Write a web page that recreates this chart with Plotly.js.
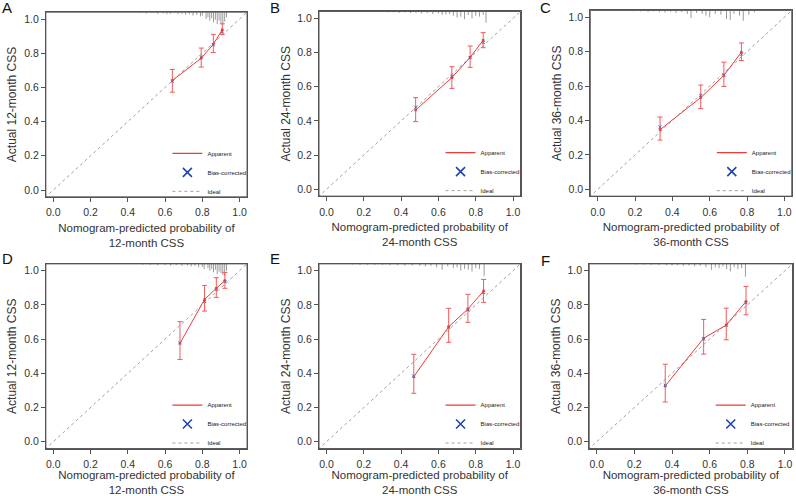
<!DOCTYPE html>
<html>
<head>
<meta charset="utf-8">
<script src="https://cdn.plot.ly/plotly-3.0.1.min.js"></script>
<style>
  html, body { margin: 0; padding: 0; background: #fff; }
  #calib { width: 796px; height: 496px; }
</style>
</head>
<body>
<div id="calib"></div>
<script>
// calibration plots of the nomogram, CSS at 12/24/36 months (top row A-C, bottom row D-F)
const panelLetters = ['A', 'B', 'C', 'D', 'E', 'F'];
const panelMonths = ['12', '24', '36', '12', '24', '36'];
const tickVals = [0, 0.2, 0.4, 0.6, 0.8, 1.0];
const tickText = ['0.0', '0.2', '0.4', '0.6', '0.8', '1.0'];

// nomogram-predicted probability for each group
const predA = [0.639, 0.794, 0.859, 0.907];
const predB = [0.478, 0.672, 0.770, 0.840];
const predC = [0.334, 0.552, 0.676, 0.770];
const predD = [0.680, 0.812, 0.875, 0.921];
const predE = [0.468, 0.655, 0.758, 0.842];
const predF = [0.364, 0.568, 0.688, 0.793];

// observed (apparent) CSS
const obsA = [0.640, 0.771, 0.852, 0.937];
const obsB = [0.464, 0.653, 0.772, 0.871];
const obsC = [0.347, 0.533, 0.662, 0.797];
const obsD = [0.575, 0.832, 0.897, 0.942];
const obsE = [0.380, 0.672, 0.776, 0.881];
const obsF = [0.326, 0.605, 0.682, 0.820];

// 95% CI lower / upper
const lowA = [0.572, 0.719, 0.804, 0.910];
const lowB = [0.396, 0.590, 0.713, 0.828];
const lowC = [0.286, 0.469, 0.598, 0.749];
const lowD = [0.481, 0.764, 0.844, 0.897];
const lowE = [0.283, 0.581, 0.698, 0.815];
const lowF = [0.232, 0.512, 0.596, 0.742];
const highA = [0.705, 0.830, 0.910, 0.972];
const highB = [0.536, 0.717, 0.838, 0.916];
const highC = [0.420, 0.606, 0.739, 0.851];
const highD = [0.702, 0.914, 0.959, 0.990];
const highE = [0.511, 0.780, 0.862, 0.949];
const highF = [0.453, 0.715, 0.781, 0.908];

// bias-corrected CSS
const biasA = [0.636, 0.778, 0.848, 0.925];
const biasB = [0.480, 0.662, 0.770, 0.858];
const biasC = [0.363, 0.545, 0.665, 0.785];
const biasD = [0.578, 0.820, 0.890, 0.935];
const biasE = [0.385, 0.668, 0.770, 0.872];
const biasF = [0.330, 0.600, 0.680, 0.812];

// spike histogram of predictions along the top (position, spike length)
const rugXA = [0.47,0.50,0.53,0.56,0.59,0.61,0.63,0.65,0.67,0.69,0.71,0.73,0.75,0.77,0.79,0.80,0.82,0.83,0.84,0.85,0.86,0.87,0.88,0.89,0.90,0.91,0.92,0.93];
const rugHA = [0.006,0.008,0.005,0.01,0.008,0.012,0.01,0.006,0.012,0.01,0.015,0.012,0.02,0.015,0.025,0.02,0.04,0.03,0.05,0.035,0.06,0.045,0.07,0.05,0.065,0.075,0.055,0.03];
const rugXB = [0.30,0.33,0.36,0.39,0.42,0.45,0.48,0.51,0.54,0.57,0.60,0.62,0.64,0.66,0.68,0.70,0.72,0.74,0.76,0.78,0.80,0.82,0.84,0.855];
const rugHB = [0.004,0.006,0.005,0.008,0.006,0.01,0.008,0.012,0.01,0.015,0.012,0.02,0.018,0.015,0.025,0.035,0.03,0.045,0.02,0.04,0.025,0.03,0.02,0.065];
const rugXC = [0.15,0.19,0.23,0.27,0.30,0.33,0.36,0.39,0.42,0.45,0.48,0.50,0.53,0.56,0.58,0.60,0.63,0.66,0.69,0.71,0.73,0.76,0.78,0.81,0.84];
const rugHC = [0.004,0.005,0.006,0.008,0.006,0.01,0.012,0.008,0.015,0.01,0.02,0.045,0.015,0.02,0.03,0.04,0.02,0.025,0.05,0.055,0.02,0.03,0.06,0.025,0.01];
const rugXD = [0.48,0.52,0.56,0.60,0.63,0.66,0.69,0.72,0.74,0.76,0.78,0.80,0.81,0.83,0.84,0.85,0.86,0.87,0.88,0.89,0.90,0.91,0.92,0.93];
const rugHD = [0.005,0.006,0.008,0.006,0.01,0.008,0.012,0.01,0.015,0.012,0.02,0.018,0.03,0.025,0.04,0.03,0.05,0.035,0.06,0.045,0.055,0.065,0.07,0.04];
const rugXE = [0.14,0.18,0.22,0.26,0.30,0.34,0.38,0.42,0.46,0.50,0.53,0.56,0.59,0.62,0.65,0.68,0.70,0.72,0.74,0.76,0.78,0.80,0.82,0.845];
const rugHE = [0.004,0.005,0.005,0.006,0.006,0.008,0.008,0.01,0.01,0.012,0.015,0.012,0.02,0.035,0.015,0.025,0.02,0.04,0.03,0.035,0.045,0.025,0.03,0.07];
const rugXF = [0.21,0.25,0.29,0.33,0.37,0.40,0.43,0.46,0.49,0.52,0.55,0.58,0.61,0.63,0.65,0.67,0.69,0.71,0.73,0.75,0.77,0.79];
const rugHF = [0.004,0.005,0.006,0.006,0.008,0.01,0.008,0.012,0.01,0.015,0.012,0.02,0.035,0.02,0.025,0.015,0.03,0.045,0.02,0.03,0.025,0.075];

const preds = [predA, predB, predC, predD, predE, predF];
const obs = [obsA, obsB, obsC, obsD, obsE, obsF];
const lows = [lowA, lowB, lowC, lowD, lowE, lowF];
const highs = [highA, highB, highC, highD, highE, highF];
const biases = [biasA, biasB, biasC, biasD, biasE, biasF];
const rugXs = [rugXA, rugXB, rugXC, rugXD, rugXE, rugXF];
const rugHs = [rugHA, rugHB, rugHC, rugHD, rugHE, rugHF];

// where 0 sits and how many px one unit is, per panel
const boxes = [
  {x0: 53.5, ux: 187, y0: 190, uy: 171},
  {x0: 327.7, ux: 187.3, y0: 189.3, uy: 171},
  {x0: 600, ux: 187.3, y0: 189.3, uy: 172},
  {x0: 53.5, ux: 187, y0: 441.7, uy: 171},
  {x0: 327.7, ux: 187.3, y0: 441.7, uy: 171},
  {x0: 599, ux: 189.5, y0: 441.7, uy: 171}
];
const letterPos = [[7, 8], [276, 8], [548, 8], [8, 258], [276, 258], [548, 260]];

const W = 796, H = 496;
const lo = -0.04, hi = 1.04;
const red = '#ee3a3a';
const frame = '#555';
const font = 'Liberation Sans, Arial, sans-serif';

var data = [];
var layout = {
  width: W,
  height: H,
  margin: {l: 0, r: 0, t: 0, b: 0},
  paper_bgcolor: 'white',
  plot_bgcolor: 'white',
  font: {family: font, color: '#333', size: 11},
  showlegend: true,
  annotations: [],
  shapes: []
};

for (var p = 0; p < 6; p++) {
  var b = boxes[p];
  var sfx = p === 0 ? '' : String(p + 1);
  var xa = 'x' + sfx, ya = 'y' + sfx;
  var lg = 'legend' + sfx;

  var leftPx = b.x0 + lo * b.ux;
  var rightPx = Math.min(b.x0 + hi * b.ux, W - 0.5);
  var topPx = b.y0 - hi * b.uy;
  var botPx = b.y0 - lo * b.uy;

  var axBase = {
    showgrid: false,
    zeroline: false,
    showline: true,
    mirror: true,
    linecolor: frame,
    linewidth: 1,
    ticks: 'outside',
    ticklen: 4,
    tickwidth: 1,
    tickcolor: frame,
    tickvals: tickVals,
    ticktext: tickText,
    tickfont: {size: 10.5, color: '#333'},
    fixedrange: true
  };

  layout['xaxis' + sfx] = Object.assign({}, axBase, {
    range: [lo, hi],
    domain: [leftPx / W, rightPx / W],
    anchor: ya,
    ticklabelstandoff: 2,
    title: {
      text: 'Nomogram-predicted probability of<br>' + panelMonths[p] + '-month CSS',
      font: {size: 11.5, color: '#333'},
      standoff: 6
    }
  });
  layout['yaxis' + sfx] = Object.assign({}, axBase, {
    range: [lo, hi],
    domain: [1 - botPx / H, 1 - topPx / H],
    anchor: xa,
    title: {
      text: 'Actual ' + panelMonths[p] + '-month CSS',
      font: {size: 12, color: '#333'},
      standoff: 4
    }
  });

  // plot frame
  layout.shapes.push({
    type: 'rect', xref: xa + ' domain', yref: ya + ' domain',
    x0: 0, x1: 1, y0: 0, y1: 1,
    line: {color: frame, width: 1}, layer: 'above'
  });

  layout[lg] = {
    x: (leftPx + 122) / W,
    xanchor: 'left',
    y: 1 - (botPx + 9) / H,
    yanchor: 'bottom',
    bgcolor: 'rgba(0,0,0,0)',
    borderwidth: 0,
    font: {size: 6, color: '#222'},
    traceorder: 'normal'
  };

  layout.annotations.push({
    text: panelLetters[p],
    xref: 'paper', yref: 'paper',
    x: letterPos[p][0] / W, y: 1 - letterPos[p][1] / H,
    xanchor: 'center', yanchor: 'middle',
    showarrow: false,
    font: {size: 15, color: '#111'}
  });

  // ideal diagonal
  data.push({
    type: 'scatter', mode: 'lines',
    x: [lo - 0.1, hi + 0.1], y: [lo - 0.1, hi + 0.1],
    xaxis: xa, yaxis: ya, legend: lg,
    name: 'Ideal', legendrank: 3,
    line: {color: '#888', width: 0.8, dash: 'dot'},
    hoverinfo: 'skip'
  });

  // spike histogram hanging from the top edge
  var rx = [], ry = [];
  for (var i = 0; i < rugXs[p].length; i++) {
    rx.push(rugXs[p][i], rugXs[p][i], null);
    ry.push(hi, hi - rugHs[p][i], null);
  }
  data.push({
    type: 'scatter', mode: 'lines',
    x: rx, y: ry,
    xaxis: xa, yaxis: ya, legend: lg,
    showlegend: false,
    line: {color: '#9a9a9a', width: 1},
    hoverinfo: 'skip'
  });

  // apparent curve with CI bars
  var up = obs[p].map(function (v, k) { return highs[p][k] - v; });
  var dn = obs[p].map(function (v, k) { return v - lows[p][k]; });
  data.push({
    type: 'scatter', mode: 'lines+markers',
    x: preds[p], y: obs[p],
    xaxis: xa, yaxis: ya, legend: lg,
    showlegend: false,
    line: {color: red, width: 1},
    marker: {color: red, size: 2.5, symbol: 'square'},
    error_y: {type: 'data', symmetric: false, array: up, arrayminus: dn,
              color: '#f05a5a', thickness: 1, width: 2.5}
  });

  // bias-corrected points
  data.push({
    type: 'scatter', mode: 'markers',
    x: preds[p], y: biases[p],
    xaxis: xa, yaxis: ya, legend: lg,
    showlegend: false,
    marker: {color: '#5a70b8', size: 3, symbol: 'x-thin-open', line: {color: '#5a70b8', width: 1}}
  });

  // legend keys
  data.push({
    type: 'scatter', mode: 'lines',
    x: [null], y: [null],
    xaxis: xa, yaxis: ya, legend: lg,
    name: 'Apparent', legendrank: 1,
    line: {color: red, width: 1.2}
  });
  data.push({
    type: 'scatter', mode: 'markers',
    x: [null], y: [null],
    xaxis: xa, yaxis: ya, legend: lg,
    name: 'Bias-corrected', legendrank: 2,
    marker: {color: '#1f45b0', size: 9, symbol: 'x-thin-open', line: {color: '#1f45b0', width: 1.6}}
  });
}

Plotly.newPlot('calib', data, layout, {staticPlot: true});
</script>
</body>
</html>
